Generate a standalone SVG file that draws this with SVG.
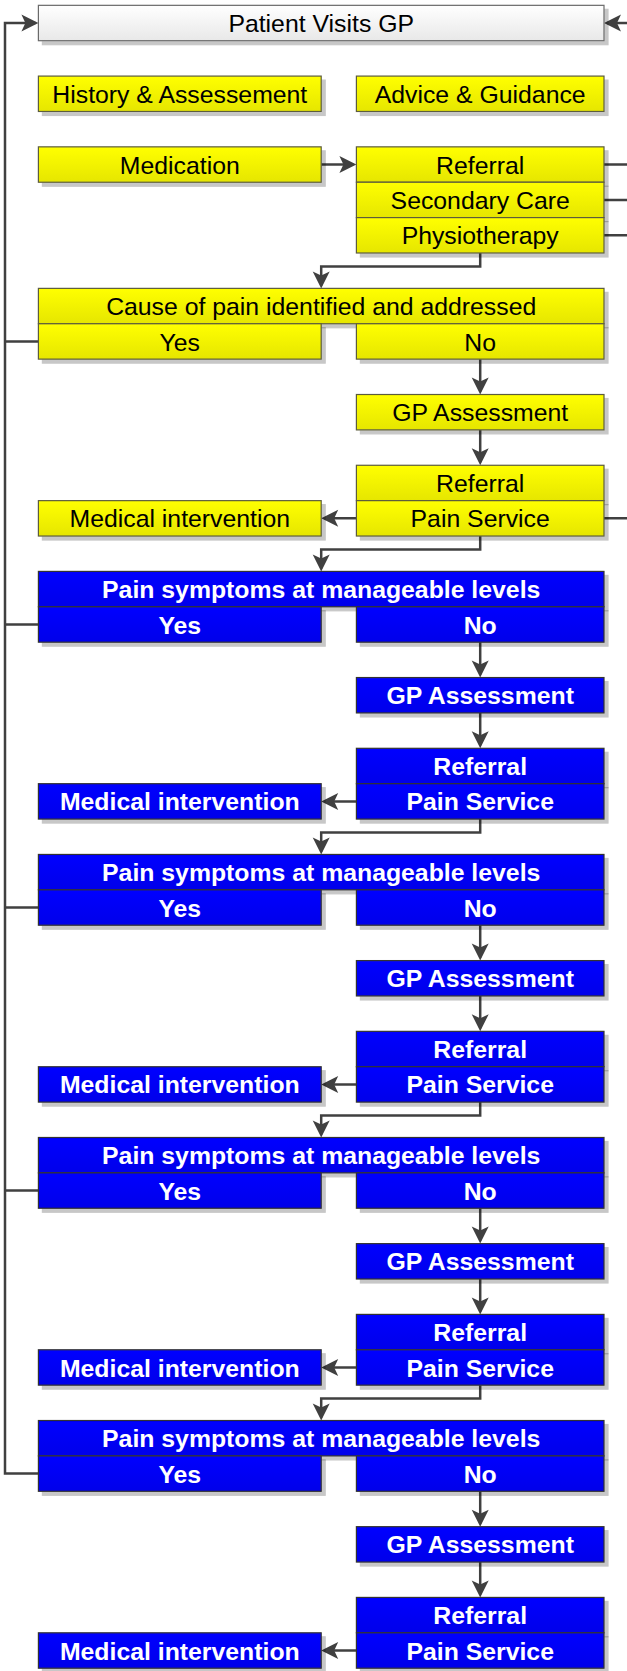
<svg xmlns="http://www.w3.org/2000/svg" width="627" height="1671" viewBox="0 0 627 1671">
<defs>
<linearGradient id="gy" x1="0" y1="0" x2="0" y2="1"><stop offset="0" stop-color="#ffff00"/><stop offset="1" stop-color="#e6e600"/></linearGradient>
<linearGradient id="gw" x1="0" y1="0" x2="0" y2="1"><stop offset="0" stop-color="#ffffff"/><stop offset="1" stop-color="#e8e8e8"/></linearGradient>
<linearGradient id="gb" x1="0" y1="0" x2="0" y2="1"><stop offset="0" stop-color="#0000ff"/><stop offset="1" stop-color="#0000ea"/></linearGradient>
<filter id="sh" x="-5%" y="-20%" width="115%" height="160%"><feDropShadow dx="4" dy="4" stdDeviation="0.7" flood-color="#000" flood-opacity="0.22"/></filter>
<marker id="ah" markerUnits="userSpaceOnUse" viewBox="-18 -10 20 20" refX="-3" refY="0" markerWidth="20" markerHeight="20" orient="auto"><path d="M0,0 L-17,-8.5 L-13,0 L-17,8.5 Z" fill="#404040"/></marker>
</defs>
<style>
.y{fill:url(#gy);stroke:#5c5c3c;stroke-width:1.2;filter:url(#sh)}
.w{fill:url(#gw);stroke:#6a6a6a;stroke-width:1.2;filter:url(#sh)}
.b{fill:url(#gb);stroke:#333;stroke-width:1.2;filter:url(#sh)}
.t{font-family:"Liberation Sans",Arial,sans-serif;font-size:24.8px;fill:#000;text-anchor:middle}
.tb{font-family:"Liberation Sans",Arial,sans-serif;font-size:24.8px;font-weight:bold;fill:#fff;text-anchor:middle}
.c{fill:none;stroke:#404040;stroke-width:2.5}
.a{marker-end:url(#ah)}
</style>
<g id="connectors">
<path class="c a" d="M38.4,1473.6 H5 V23.02 H35.4"/>
<path class="c" d="M38.4,341.44 H5 M38.4,624.48 H5 M38.4,907.52 H5 M38.4,1190.56 H5"/>
<path class="c a" d="M627,23.02 H607"/>
<path class="c a" d="M321.2,164.54 H353.4"/>
<path class="c" d="M604,164.54 H627 M604,199.92 H627 M604,235.3 H627 M604,518.34 H627"/>
<path class="c a" d="M480.2,252.99 V266.4 H321.2 V285.4"/>
<path class="c a" d="M480.2,359.13 V391.5"/>
<path class="c a" d="M480.2,429.89 V462.3"/>
<path class="c a" d="M356.4,518.34 H324.2"/>
<path class="c a" d="M480.2,536.03 V549.4 H321.2 V568.4"/>
<path class="c a" d="M480.2,642.17 V674.5"/>
<path class="c a" d="M480.2,712.93 V745.3"/>
<path class="c a" d="M356.4,801.38 H324.2"/>
<path class="c a" d="M480.2,819.07 V832.5 H321.2 V851.4"/>
<path class="c a" d="M480.2,925.21 V957.6"/>
<path class="c a" d="M480.2,995.97 V1028.3"/>
<path class="c a" d="M356.4,1084.42 H324.2"/>
<path class="c a" d="M480.2,1102.11 V1115.5 H321.2 V1134.5"/>
<path class="c a" d="M480.2,1208.25 V1240.6"/>
<path class="c a" d="M480.2,1279.01 V1311.4"/>
<path class="c a" d="M356.4,1367.46 H324.2"/>
<path class="c a" d="M480.2,1385.15 V1398.6 H321.2 V1417.5"/>
<path class="c a" d="M480.2,1491.29 V1523.7"/>
<path class="c a" d="M480.2,1562.05 V1594.4"/>
<path class="c a" d="M356.4,1650.5 H324.2"/>
</g>
<g id="patient"><rect class="w" x="38.4" y="5.33" width="565.6" height="35.38"/><text class="t" x="321.2" y="32">Patient Visits GP</text></g>
<g id="history"><rect class="y" x="38.4" y="76.09" width="282.8" height="35.38"/><text class="t" x="179.8" y="102.8">History &amp; Assessement</text></g>
<g id="advice"><rect class="y" x="356.4" y="76.09" width="247.6" height="35.38"/><text class="t" x="480.2" y="102.8">Advice &amp; Guidance</text></g>
<g id="medication"><rect class="y" x="38.4" y="146.85" width="282.8" height="35.38"/><text class="t" x="179.8" y="173.6">Medication</text></g>
<g id="referral1"><rect class="y" x="356.4" y="146.85" width="247.6" height="35.38"/><text class="t" x="480.2" y="173.6">Referral</text></g>
<g id="secondary"><rect class="y" x="356.4" y="182.23" width="247.6" height="35.38"/><text class="t" x="480.2" y="208.9">Secondary Care</text></g>
<g id="physio"><rect class="y" x="356.4" y="217.61" width="247.6" height="35.38"/><text class="t" x="480.2" y="244.3">Physiotherapy</text></g>
<g id="cause"><rect class="y" x="38.4" y="288.37" width="565.6" height="35.38"/><text class="t" x="321.2" y="315.1">Cause of pain identified and addressed</text></g>
<g id="yes0"><rect class="y" x="38.4" y="323.75" width="282.8" height="35.38"/><text class="t" x="179.8" y="350.5">Yes</text></g>
<g id="no0"><rect class="y" x="356.4" y="323.75" width="247.6" height="35.38"/><text class="t" x="480.2" y="350.5">No</text></g>
<g id="gp0"><rect class="y" x="356.4" y="394.51" width="247.6" height="35.38"/><text class="t" x="480.2" y="421.2">GP Assessment</text></g>
<g id="ref0"><rect class="y" x="356.4" y="465.27" width="247.6" height="35.38"/><text class="t" x="480.2" y="492">Referral</text></g>
<g id="med0"><rect class="y" x="38.4" y="500.65" width="282.8" height="35.38"/><text class="t" x="179.8" y="527.4">Medical intervention</text></g>
<g id="pain0"><rect class="y" x="356.4" y="500.65" width="247.6" height="35.38"/><text class="t" x="480.2" y="527.4">Pain Service</text></g>

<g id="sym1"><rect class="b" x="38.4" y="571.41" width="565.6" height="35.38"/><text class="tb" x="321.2" y="598.1">Pain symptoms at manageable levels</text></g>
<g id="yes1"><rect class="b" x="38.4" y="606.79" width="282.8" height="35.38"/><text class="tb" x="179.8" y="633.5">Yes</text></g>
<g id="no1"><rect class="b" x="356.4" y="606.79" width="247.6" height="35.38"/><text class="tb" x="480.2" y="633.5">No</text></g>
<g id="gp1"><rect class="b" x="356.4" y="677.55" width="247.6" height="35.38"/><text class="tb" x="480.2" y="704.3">GP Assessment</text></g>
<g id="ref1"><rect class="b" x="356.4" y="748.31" width="247.6" height="35.38"/><text class="tb" x="480.2" y="775">Referral</text></g>
<g id="med1"><rect class="b" x="38.4" y="783.69" width="282.8" height="35.38"/><text class="tb" x="179.8" y="810.4">Medical intervention</text></g>
<g id="pain1"><rect class="b" x="356.4" y="783.69" width="247.6" height="35.38"/><text class="tb" x="480.2" y="810.4">Pain Service</text></g>

<g id="sym2"><rect class="b" x="38.4" y="854.45" width="565.6" height="35.38"/><text class="tb" x="321.2" y="881.2">Pain symptoms at manageable levels</text></g>
<g id="yes2"><rect class="b" x="38.4" y="889.83" width="282.8" height="35.38"/><text class="tb" x="179.8" y="916.5">Yes</text></g>
<g id="no2"><rect class="b" x="356.4" y="889.83" width="247.6" height="35.38"/><text class="tb" x="480.2" y="916.5">No</text></g>
<g id="gp2"><rect class="b" x="356.4" y="960.59" width="247.6" height="35.38"/><text class="tb" x="480.2" y="987.3">GP Assessment</text></g>
<g id="ref2"><rect class="b" x="356.4" y="1031.35" width="247.6" height="35.38"/><text class="tb" x="480.2" y="1058.1">Referral</text></g>
<g id="med2"><rect class="b" x="38.4" y="1066.73" width="282.8" height="35.38"/><text class="tb" x="179.8" y="1093.4">Medical intervention</text></g>
<g id="pain2"><rect class="b" x="356.4" y="1066.73" width="247.6" height="35.38"/><text class="tb" x="480.2" y="1093.4">Pain Service</text></g>

<g id="sym3"><rect class="b" x="38.4" y="1137.49" width="565.6" height="35.38"/><text class="tb" x="321.2" y="1164.2">Pain symptoms at manageable levels</text></g>
<g id="yes3"><rect class="b" x="38.4" y="1172.87" width="282.8" height="35.38"/><text class="tb" x="179.8" y="1199.6">Yes</text></g>
<g id="no3"><rect class="b" x="356.4" y="1172.87" width="247.6" height="35.38"/><text class="tb" x="480.2" y="1199.6">No</text></g>
<g id="gp3"><rect class="b" x="356.4" y="1243.63" width="247.6" height="35.38"/><text class="tb" x="480.2" y="1270.3">GP Assessment</text></g>
<g id="ref3"><rect class="b" x="356.4" y="1314.39" width="247.6" height="35.38"/><text class="tb" x="480.2" y="1341.1">Referral</text></g>
<g id="med3"><rect class="b" x="38.4" y="1349.77" width="282.8" height="35.38"/><text class="tb" x="179.8" y="1376.5">Medical intervention</text></g>
<g id="pain3"><rect class="b" x="356.4" y="1349.77" width="247.6" height="35.38"/><text class="tb" x="480.2" y="1376.5">Pain Service</text></g>

<g id="sym4"><rect class="b" x="38.4" y="1420.53" width="565.6" height="35.38"/><text class="tb" x="321.2" y="1447.2">Pain symptoms at manageable levels</text></g>
<g id="yes4"><rect class="b" x="38.4" y="1455.91" width="282.8" height="35.38"/><text class="tb" x="179.8" y="1482.6">Yes</text></g>
<g id="no4"><rect class="b" x="356.4" y="1455.91" width="247.6" height="35.38"/><text class="tb" x="480.2" y="1482.6">No</text></g>
<g id="gp4"><rect class="b" x="356.4" y="1526.67" width="247.6" height="35.38"/><text class="tb" x="480.2" y="1553.4">GP Assessment</text></g>
<g id="ref4"><rect class="b" x="356.4" y="1597.43" width="247.6" height="35.38"/><text class="tb" x="480.2" y="1624.1">Referral</text></g>
<g id="med4"><rect class="b" x="38.4" y="1632.81" width="282.8" height="35.38"/><text class="tb" x="179.8" y="1659.5">Medical intervention</text></g>
<g id="pain4"><rect class="b" x="356.4" y="1632.81" width="247.6" height="35.38"/><text class="tb" x="480.2" y="1659.5">Pain Service</text></g>
</svg>
